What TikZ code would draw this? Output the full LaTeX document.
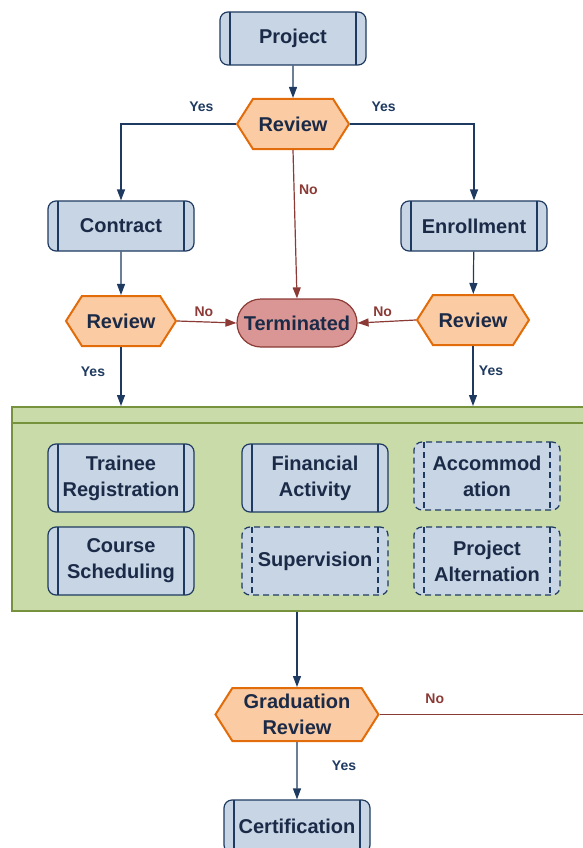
\documentclass[tikz,border=0pt]{standalone}
\usepackage{fontspec}
\setmainfont{Liberation Sans}
\usetikzlibrary{arrows.meta,shapes.symbols,shapes.misc}
\definecolor{navy}{HTML}{1F3A60}
\definecolor{txtnavy}{HTML}{1B2A47}
\definecolor{boxfill}{HTML}{C8D5E5}
\definecolor{peach}{HTML}{FBCBA3}
\definecolor{hexline}{HTML}{E36C0A}
\definecolor{termfill}{HTML}{D99694}
\definecolor{termline}{HTML}{8C3B36}
\definecolor{nored}{HTML}{8B3A35}
\definecolor{stagefill}{HTML}{C8DBA8}
\definecolor{stageline}{HTML}{76923C}
\begin{document}
\begin{tikzpicture}[x=1pt,y=-1pt,
    every node/.style={text=txtnavy, font=\fontsize{20}{26}\selectfont\bfseries},
    procbox/.style={draw=navy, fill=boxfill, line width=1.2pt, rounded corners=8pt,
        minimum width=146pt, minimum height=50pt, inner sep=0pt, align=center,
        path picture={\draw[navy, line width=1.2pt, solid]
            ([xshift=10pt]path picture bounding box.north west) -- ([xshift=10pt]path picture bounding box.south west)
            ([xshift=-10pt]path picture bounding box.north east) -- ([xshift=-10pt]path picture bounding box.south east);}},
    optbox/.style={draw=navy, fill=boxfill, line width=1.2pt, rounded corners=8pt, dash pattern=on 6pt off 4pt,
        minimum width=146pt, minimum height=68pt, inner sep=0pt, align=center,
        path picture={\draw[navy, line width=1.2pt, dash pattern=on 6pt off 4pt]
            ([xshift=10pt]path picture bounding box.north west) -- ([xshift=10pt]path picture bounding box.south west)
            ([xshift=-10pt]path picture bounding box.north east) -- ([xshift=-10pt]path picture bounding box.south east);}},
    revbox/.style={signal, signal to=west and east, signal pointer angle=115, draw=hexline, fill=peach,
        line width=2pt, minimum height=50pt, inner sep=0pt, align=center},
    termbox/.style={rounded rectangle, draw=termline, fill=termfill, line width=1.2pt,
        minimum width=120pt, minimum height=48pt, inner sep=0pt},
    stagebox/.style={draw=stageline, fill=stagefill, line width=2pt},
    yesline/.style={draw=navy, line width=1.2pt, -{Triangle[length=11pt,width=8pt]}},
    noline/.style={draw=nored, line width=1.2pt, -{Triangle[length=11pt,width=8pt]}},
    lbl/.style={font=\fontsize{14}{16}\selectfont\bfseries, text=navy},
    nolbl/.style={font=\fontsize{14}{16}\selectfont\bfseries, text=nored}]
    \useasboundingbox (0,0) rectangle (583,848);

    % top part
    \node[procbox, minimum height=53pt] (project) at (293,38.5) {Project};
    \node[revbox, minimum width=112pt] (review) at (293,124) {Review};
    \node[procbox] (contract) at (121,226) {Contract};
    \node[procbox] (enroll) at (474,226) {Enrollment};
    \node[revbox, minimum width=110pt] (reviewl) at (121,321) {Review};
    \node[revbox, minimum width=112pt] (reviewr) at (473,320) {Review};
    \node[termbox] (term) at (297,323) {Terminated};

    % training stage
    \node[stagebox, minimum width=588pt, minimum height=204pt] (stage) at (306,509) {};
    \draw[stageline, line width=2pt] ([yshift=-17pt]stage.north west) -- ([yshift=-17pt]stage.north east);
    \node[procbox, minimum height=68pt] (trainee) at (121,478) {Trainee\\Registration};
    \node[procbox, minimum height=68pt] (finance) at (315,478) {Financial\\Activity};
    \node[optbox] (accom) at (487,476) {Accommod\\ation};
    \node[procbox, minimum height=68pt] (course) at (121,561) {Course\\Scheduling};
    \node[optbox] (superv) at (315,561) {Supervision};
    \node[optbox] (altern) at (487,561) {Project\\Alternation};

    % bottom part
    \node[revbox, minimum width=163pt, minimum height=53pt] (grad) at (297,714.5) {Graduation\\Review};
    \node[procbox, minimum height=53pt] (cert) at (297,826.5) {Certification};
    \coordinate (offright) at (600,714.5);

    % connectors
    \draw[yesline] (project) -- (review);
    \draw[yesline] (review.west) -| node[lbl, pos=.15, above=8pt] {Yes} (contract.north);
    \draw[yesline] (review.east) -| node[lbl, pos=.135, above=8pt] {Yes} (enroll.north);
    \draw[noline] (review.south) -- node[nolbl, pos=.27, right=1pt] {No} (term.north);
    \draw[yesline] (contract) -- (reviewl);
    \draw[yesline] (enroll) -- (reviewr);
    \draw[noline] (reviewl.east) -- node[nolbl, pos=.45, above=1pt] {No} (term.west);
    \draw[noline] (reviewr.west) -- node[nolbl, pos=.57, above=1pt] {No} (term.east);
    \draw[yesline] (reviewl.south) -- node[lbl, pos=.42, left=12pt] {Yes} (reviewl.south |- stage.north);
    \draw[yesline] (reviewr.south) -- node[lbl, pos=.42, right=2pt] {Yes} (reviewr.south |- stage.north);
    \draw[yesline] (grad.north |- stage.south) -- (grad.north);
    \draw[noline, -] (grad.east) -- node[nolbl, pos=.25, above=7pt] {No} (offright);
    \draw[yesline] (grad) -- node[lbl, pos=.42, right=31pt] {Yes} (cert);
\end{tikzpicture}
\end{document}
